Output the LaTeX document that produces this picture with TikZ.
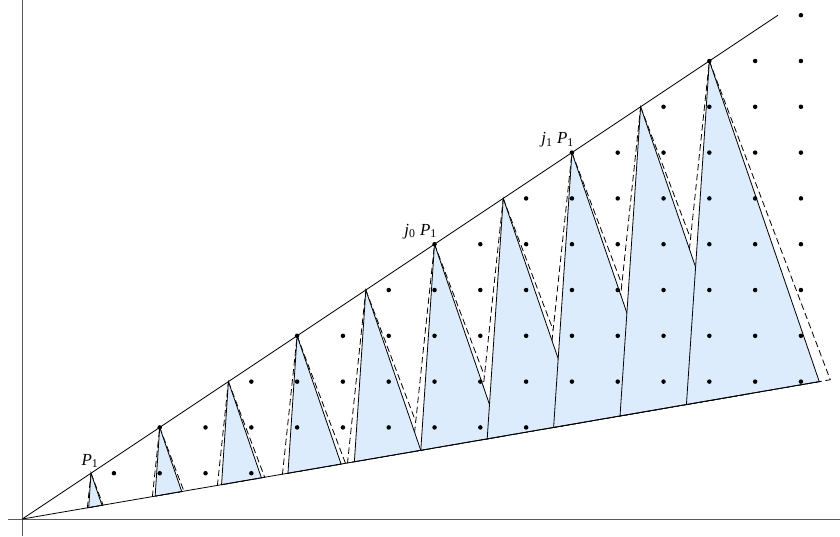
\documentclass[tikz,border=0pt]{standalone}
\usepackage{fontspec}
\setmainfont{Liberation Serif}
\definecolor{fillblue}{RGB}{220,236,252}
\tikzset{
  axisline/.style={draw=black!65, line width=0.45pt},
  boundline/.style={draw=black, line width=0.5pt},
  cone/.style={fill=fillblue, draw=black, line width=0.5pt, line join=miter},
  dcone/.style={fill=white, draw=black, line width=0.5pt, dash pattern=on 4pt off 2.2pt},
  latpt/.style={fill=black, circle, inner sep=0pt, minimum size=2.8pt},
  lbl/.style={font=\fontsize{10.5}{12}\selectfont, inner sep=0pt}
}
\newcommand{\jlab}[1]{\textit{j}\textsubscript{#1}\kern0.25em\textit{P}\textsubscript{1}}
\begin{document}
\begin{tikzpicture}
\useasboundingbox (-0.487,-0.371) rectangle (17.853,11.332);
\coordinate (O) at (0,0);
\coordinate (axL) at (-0.31,0);
\coordinate (axR) at (17.853,0);
\coordinate (ayB) at (0,-0.371);
\coordinate (ayT) at (0,11.332);
\draw[axisline] (axL) -- (axR);
\draw[axisline] (ayB) -- (ayT);
\foreach \k in {1,...,10}{
  \coordinate (T\k) at (1.5*\k, \k);
  \coordinate (A\k) at (1.45*\k, 0.25*\k);
  \coordinate (B\k) at (1.74*\k, 0.3*\k);
  \coordinate (Ad\k) at (1.42*\k, 0.2449*\k);
  \coordinate (Bd\k) at (1.764*\k, 0.3041*\k);
}
% dashed triangles
\foreach \k in {1,...,10}{
  \path[dcone] (T\k) -- (Bd\k) -- (Ad\k) -- cycle;
}
% shaded triangles
\foreach \k in {1,...,10}{
  \path[cone] (T\k) -- (B\k) -- (A\k) -- cycle;
}
% bounding rays
\coordinate (Uend) at (16.5,11);
\draw[boundline] (O) -- (Uend);
\draw[boundline] (O) -- (B10);
% lattice points
\foreach \x in {2,...,17}{
  \pgfmathtruncatemacro{\ylo}{ceil(5*\x/29-0.001)}
  \pgfmathtruncatemacro{\yhi}{floor(2*\x/3+0.001)}
  \foreach \y in {\ylo,...,\yhi}{
    \node[latpt] (p-\x-\y) at (\x,\y) {};
  }
}
% labels
\node[lbl] (l1) at (1.48,1.27) {\textit{P}\textsubscript{1}};
\node[lbl] (l2) at (8.70,6.28) {\jlab{0}};
\node[lbl] (l3) at (11.69,8.28) {\jlab{1}};
\end{tikzpicture}
\end{document}
